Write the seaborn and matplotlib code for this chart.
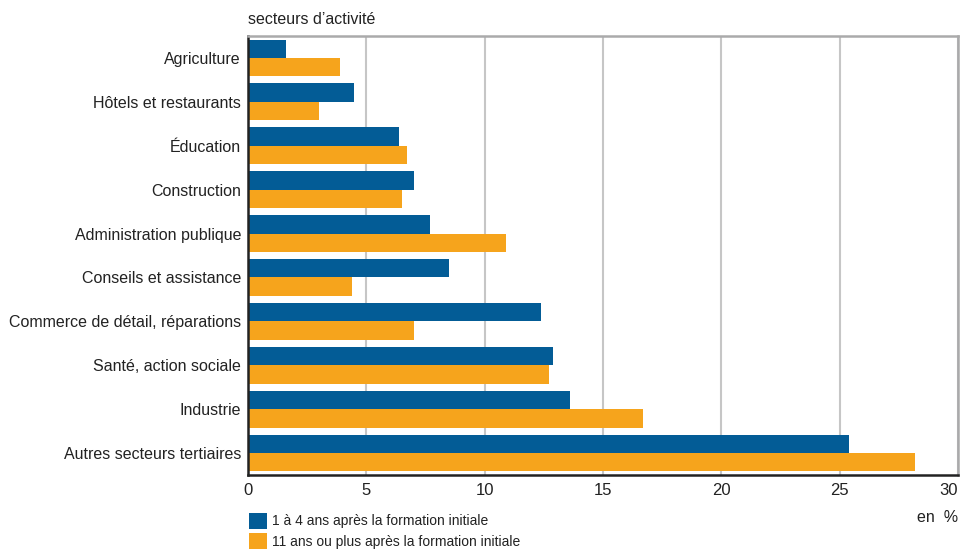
import matplotlib
matplotlib.use("Agg")
import matplotlib.pyplot as plt
import matplotlib.patches as mpatches
from matplotlib import font_manager
import seaborn as sns
import pandas as pd

categories = ["Agriculture", "Hôtels et restaurants", "Éducation", "Construction",
              "Administration publique", "Conseils et assistance",
              "Commerce de détail, réparations", "Santé, action sociale",
              "Industrie", "Autres secteurs tertiaires"]
series_names = ["1 à 4 ans après la formation initiale",
                "11 ans ou plus après la formation initiale"]
recent = [1.6, 4.5, 6.4, 7.0, 7.7, 8.5, 12.4, 12.9, 13.6, 25.4]
older = [3.9, 3.0, 6.7, 6.5, 10.9, 4.4, 7.0, 12.7, 16.7, 28.2]
xticks = [0, 5, 10, 15, 20, 25, 30]
colors = ["#035C96", "#F6A41C"]

df = pd.DataFrame({
    "secteur": categories * 2,
    "valeur": recent + older,
    "serie": [series_names[0]] * len(categories) + [series_names[1]] * len(categories),
})

sns.set_theme(style="white")
names = {f.name for f in font_manager.fontManager.ttflist}
fam = "Liberation Sans Narrow" if "Liberation Sans Narrow" in names else "Liberation Sans"
plt.rcParams["font.family"] = [fam, "DejaVu Sans"]

fig = plt.figure(figsize=(9.62, 5.51), dpi=100)
ax = fig.add_axes([248 / 962, 1 - 475 / 551, (958 - 248) / 962, (475 - 36) / 551])

sns.barplot(data=df, y="secteur", x="valeur", hue="serie", order=categories,
            hue_order=series_names, palette=colors, width=0.84, saturation=1,
            orient="h", ax=ax, legend=False, linewidth=0, edgecolor="none")

ax.set_xlim(0, 30)
ax.set_ylim(len(categories) - 0.5, -0.5)
ax.set_xticks(xticks)
labels = ax.set_xticklabels([str(t) for t in xticks], fontsize=12, color="#222222")
labels[-1].set_horizontalalignment("right")
ax.tick_params(axis="y", labelsize=11.5, colors="#222222", length=0, pad=5)
ax.tick_params(axis="x", length=0, pad=6)
ax.set_xlabel("")
ax.set_ylabel("")
ax.xaxis.grid(True, color="#c6c6c6", linewidth=1.5)
ax.set_axisbelow(True)
for s in ["left", "bottom"]:
    ax.spines[s].set_color("#222222")
    ax.spines[s].set_linewidth(1.8)
for s in ["top", "right"]:
    ax.spines[s].set_color("#aaaaab")
    ax.spines[s].set_linewidth(1.8)

fig.text(248 / 962, 1 - 19 / 551, "secteurs d’activité", fontsize=11.5,
         color="#222222", va="center", ha="left")
fig.text(958 / 962, 1 - 518 / 551, "en  %", fontsize=11.5,
         color="#222222", va="center", ha="right")

handles = [mpatches.Patch(facecolor=c, edgecolor="none") for c in colors]
leg = fig.legend(handles, series_names, loc="lower left",
                 bbox_to_anchor=(239 / 962, -0.014), frameon=False,
                 fontsize=10, handlelength=1.3, handleheight=1.4,
                 handletextpad=0.4, labelspacing=0.3, borderpad=0.2)
for t in leg.get_texts():
    t.set_color("#222222")

fig.savefig("out.png", dpi=100)
